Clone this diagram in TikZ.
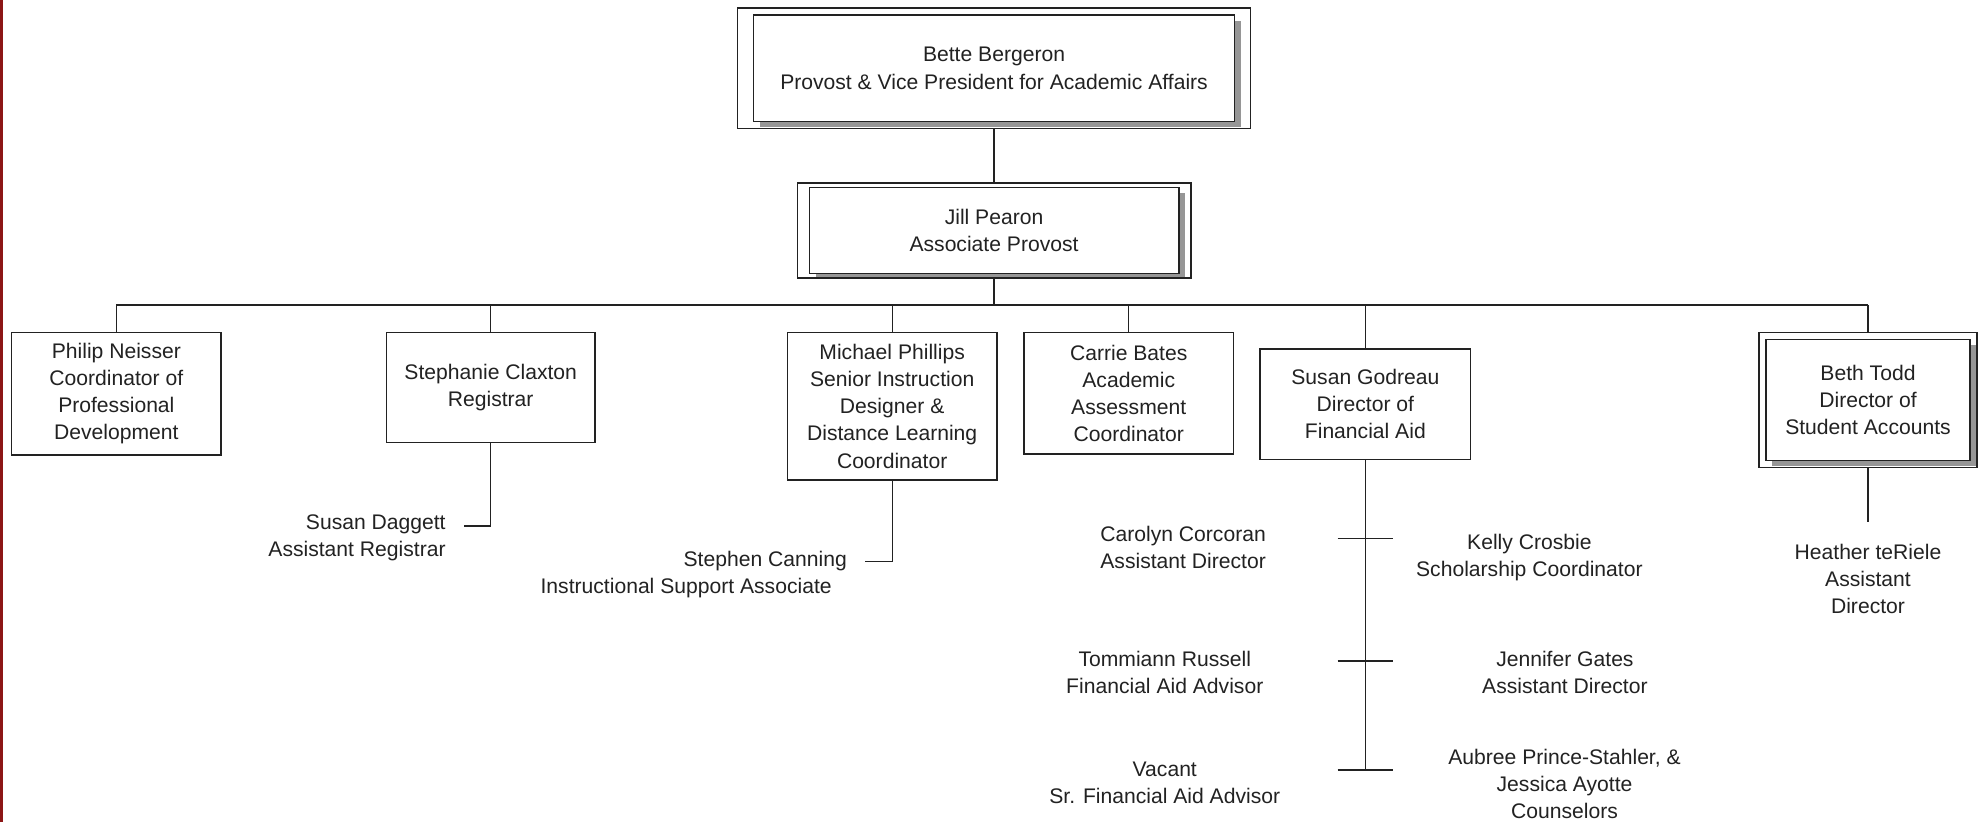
\documentclass[tikz,border=0pt]{standalone}
\usepackage{fontspec}
\setmainfont{Liberation Sans}
\usetikzlibrary{positioning, fit, shadows}

\definecolor{edgered}{RGB}{140,22,22}
\definecolor{inkgray}{RGB}{34,34,34}
\definecolor{shadowgray}{RGB}{150,150,150}

\begin{document}
\begin{tikzpicture}[
        every node/.style={font=\fontsize{9.5pt}{12.2pt}\selectfont, text=inkgray},
        box/.style={draw=inkgray, line width=0.65pt, fill=white, align=center, inner sep=2pt, outer sep=0pt},
        shadowbox/.style={box, drop shadow={shadow xshift=0.1cm, shadow yshift=-0.09cm, fill=shadowgray, opacity=1}},
        framebox/.style={draw=inkgray, line width=0.65pt, outer sep=0pt},
        staff/.style={inner sep=0pt, align=center},
        link/.style={draw=inkgray, line width=0.55pt}
    ]

    % Page
    \fill[white] (0,0) rectangle (31.36,-13);
    \useasboundingbox (0,0) rectangle (31.36,-13);
    \fill[edgered] (0,0) rectangle (0.05,-13);

    % Nodes
    \node[shadowbox, minimum width=7.606cm, minimum height=1.686cm] (bergeron) at (15.72,-1.081)
        {Bette Bergeron\\Provost \& Vice President for Academic Affairs};
    \node[framebox, fit=(bergeron), inner xsep=0.255cm, inner ysep=0.11cm] (bergeron-frame) {};
    \node[shadowbox, minimum width=5.844cm, minimum height=1.36cm, below=1.04cm of bergeron] (pearon)
        {Jill Pearon\\Associate Provost};
    \node[framebox, fit=(pearon), inner xsep=0.19cm, inner ysep=0.072cm] (pearon-frame) {};

    \node[box, minimum width=3.316cm, minimum height=1.936cm, anchor=north west] (neisser) at (0.182,-5.26)
        {Philip Neisser\\Coordinator of\\Professional\\Development};
    \node[box, minimum width=3.296cm, minimum height=1.74cm, right=2.614cm of neisser.north east, anchor=north west] (claxton)
        {Stephanie Claxton\\Registrar};
    \node[box, minimum width=3.314cm, minimum height=2.33cm, right=3.044cm of claxton.north east, anchor=north west] (phillips)
        {Michael Phillips\\Senior Instruction\\Designer \&\\Distance Learning\\Coordinator};
    \node[box, minimum width=3.308cm, minimum height=1.92cm, right=0.43cm of phillips.north east, anchor=north west] (bates)
        {Carrie Bates\\Academic\\Assessment\\Coordinator};
    \node[box, minimum width=3.332cm, minimum height=1.744cm, right=0.422cm of bates.north east, anchor=north west, yshift=-0.26cm] (godreau)
        {Susan Godreau\\Director of\\Financial Aid};
    \node[shadowbox, minimum width=3.226cm, minimum height=1.92cm, right=4.67cm of godreau.north east, anchor=north west, yshift=0.154cm] (todd)
        {Beth Todd\\Director of\\Student Accounts};
    \node[framebox, fit=(todd), inner xsep=0.113cm, inner ysep=0.105cm] (todd-frame) {};

    % Staff under the directors
    \coordinate[below=1.32cm of claxton.south, xshift=-0.428cm] (daggett-tie);
    \node[staff, align=right, left=0.278cm of daggett-tie, yshift=-0.19cm] (daggett)
        {Susan Daggett\\Assistant Registrar};

    \coordinate[below=1.29cm of phillips.south, xshift=-0.43cm] (canning-tie);
    \node[staff, align=right, left=0.28cm of canning-tie, yshift=-0.21cm] (canning)
        {Stephen Canning\\Instructional Support Associate\makebox[0.24cm]{}};

    \coordinate[below=1.25cm of godreau.south] (tick-a);
    \coordinate[below=3.19cm of godreau.south] (tick-b);
    \coordinate[below=4.912cm of godreau.south] (tick-c);
    \node[staff] (corcoran) at ([shift={(-2.882,-0.144)}]tick-a) {Carolyn Corcoran\\Assistant Director};
    \node[staff] (crosbie) at ([shift={(2.594,-0.302)}]tick-a) {Kelly Crosbie\\Scholarship Coordinator};
    \node[staff] (russell) at ([shift={(-3.172,-0.181)}]tick-b) {Tommiann Russell\\Financial Aid Advisor};
    \node[staff] (gates) at ([shift={(3.156,-0.181)}]tick-b) {Jennifer Gates\\Assistant Director};
    \node[staff] (vacant) at ([shift={(-3.172,-0.199)}]tick-c) {Vacant\\Sr. Financial Aid Advisor};
    \node[staff] (counselors) at ([shift={(3.15,-0.218)}]tick-c) {Aubree Prince-Stahler, \&\\Jessica Ayotte\\Counselors};

    \coordinate[below=0.86cm of todd-frame.south] (teriele-tie);
    \node[staff] (teriele) at ([yshift=-0.908cm]teriele-tie) {Heather teRiele\\Assistant\\Director};

    % Lines
    \coordinate[below=0.426cm of pearon-frame.south] (bus);
    \draw[link] (bergeron-frame) -- (pearon-frame);
    \draw[link] (pearon-frame) -- (bus);
    \draw[link] (neisser.north |- bus) -- (todd-frame.north |- bus);
    \draw[link] (neisser) -- (neisser |- bus);
    \draw[link] (claxton) -- (claxton |- bus);
    \draw[link] (phillips) -- (phillips |- bus);
    \draw[link] (bates) -- (bates |- bus);
    \draw[link] (godreau) -- (godreau |- bus);
    \draw[link] (todd-frame) -- (todd-frame |- bus);

    \draw[link] (claxton) |- (daggett-tie);
    \draw[link] (phillips) |- (canning-tie);
    \draw[link] (godreau) -- (tick-c);
    \draw[link] ([xshift=-0.44cm]tick-a) -- ([xshift=0.44cm]tick-a);
    \draw[link] ([xshift=-0.44cm]tick-b) -- ([xshift=0.44cm]tick-b);
    \draw[link] ([xshift=-0.44cm]tick-c) -- ([xshift=0.44cm]tick-c);
    \draw[link] (todd-frame) -- (teriele-tie);

\end{tikzpicture}
\end{document}
